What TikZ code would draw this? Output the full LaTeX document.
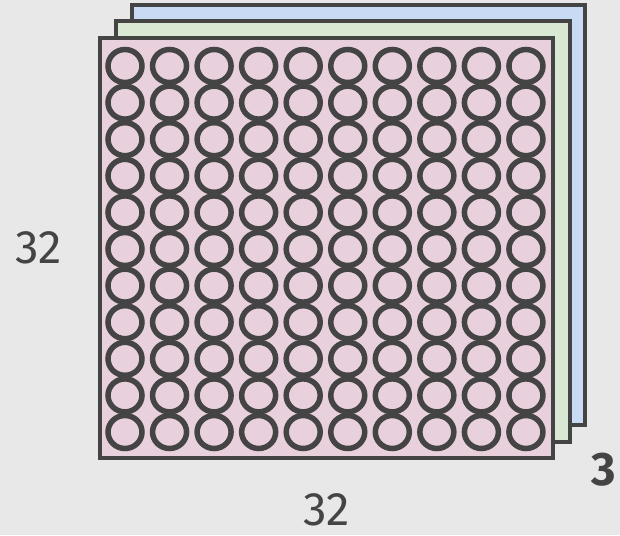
\documentclass[tikz,border=0pt]{standalone}
\usepackage{fontspec}
\setmainfont{Fira Sans}
\definecolor{sfondo}{HTML}{E8E8E8}
\definecolor{bordo}{HTML}{444444}
\definecolor{rosa}{HTML}{E8D0DC}
\definecolor{verde}{HTML}{D9E8D3}
\definecolor{blu}{HTML}{C9DAF5}
\definecolor{testo}{HTML}{444444}
\tikzset{
  strato/.style={draw=bordo,line width=4pt},
  cella/.style={draw=bordo,line width=5.5pt},
  etichetta/.style={inner sep=0pt,text=testo,font=\fontsize{47}{56}\selectfont}
}
\begin{document}
\begin{tikzpicture}[x=1pt,y=-1pt]
        \fill[sfondo] (0,0) rectangle (620,535);
        \useasboundingbox (0,0) rectangle (620,535);
        % Strati
        \draw[strato,fill=blu] (132,5) rectangle (585,425);
        \draw[strato,fill=verde] (116,21) rectangle (570,442);
        \draw[strato,fill=rosa] (100,38) rectangle (553,458);
        % Celle
        \foreach \i in {0,...,9}
          \foreach \j in {0,...,10}
            \draw[cella] (125+44.55*\i,66+36.6*\j) circle [x radius=17pt,y radius=16.5pt];
        % Dimensioni
        \node[etichetta] (righe) at (39,248) {32};
        \node[etichetta] (colonne) at (327,510) {32};
        \node[etichetta,font=\fontsize{47}{56}\selectfont\bfseries] (canali) at (604,470) {3};
    \end{tikzpicture}
\end{document}
